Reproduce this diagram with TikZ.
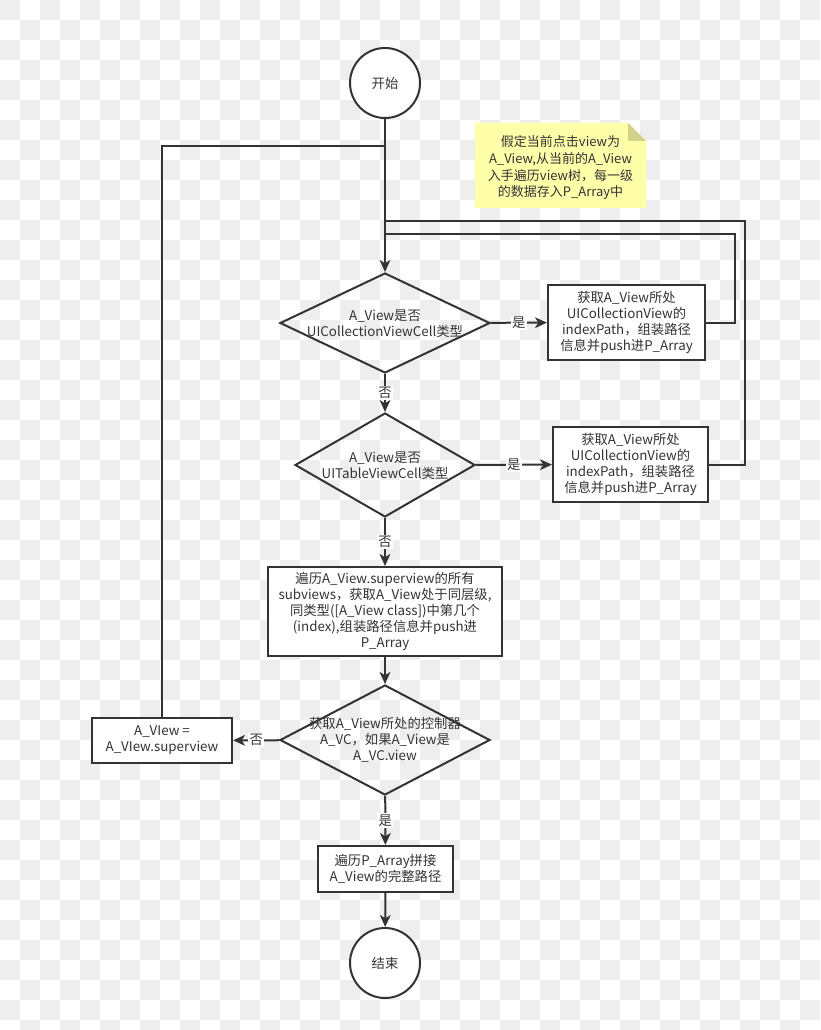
\documentclass[tikz,border=0pt]{standalone}
\usepackage{fontspec}
\setmainfont{Noto Sans CJK SC}
\usetikzlibrary{arrows.meta, shapes.geometric, calc}

\definecolor{linegray}{HTML}{333333}
\definecolor{textgray}{HTML}{333333}
\definecolor{checkgray}{HTML}{EEEEEE}
\definecolor{notefill}{HTML}{FFFFAA}
\definecolor{notefold}{HTML}{D2D28A}
\newcommand{\flowfont}{\fontsize{10pt}{12pt}\selectfont}

\begin{document}
\begin{tikzpicture}[x=0.75pt, y=-0.75pt, >=Stealth,
  flowline/.style={draw=linegray, line width=1.5pt},
  flowarrow/.style={flowline, -{Stealth[length=9pt, width=8pt, inset=2.5pt]}},
  terminal/.style={circle, draw=linegray, line width=1.5pt, fill=white,
                   minimum size=52.5pt, inner sep=0pt, font=\flowfont, text=textgray},
  process/.style={rectangle, draw=linegray, line width=1.5pt, fill=white,
                  align=center, inner sep=0pt, font=\flowfont, text=textgray},
  decision/.style={diamond, draw=linegray, line width=1.5pt, inner sep=0pt},
  decisiontext/.style={align=center, inner sep=0pt, font=\flowfont, text=textgray},
  branch/.style={fill=white, inner sep=1pt, font=\flowfont, text=textgray}]
  \useasboundingbox (0,0) rectangle (820,1030);

  % Checkered backdrop
  \foreach \i in {0,...,40} {
    \pgfmathtruncatemacro{\off}{mod(\i,2)}
    \foreach \j in {0,...,25} {
      \fill[checkgray] (\i*20, {(2*\j+\off)*20}) rectangle ++(20,20);
    }
  }

  % Note
  \fill[notefill] (475,123) -- (628,123) -- (646,141) -- (646,208) -- (475,208) -- cycle;
  \fill[notefold] (628,123) -- (646,141) -- (628,141) -- cycle;
  \node[decisiontext, font=\fontsize{9.75pt}{12.5pt}\selectfont] (note) at (560.5,168)
    {假定当前点击view为\\A\_View,从当前的A\_View\\入手遍历view树，每一级\\的数据存入P\_Array中};

  % Main column
  \node[terminal] (start) at (385,83) {开始};
  \node[decision, minimum width=157.5pt, minimum height=75pt] (dec1) at (385,323) {};
  \node[decisiontext] (dec1text) at (385,324) {A\_View是否\\UICollectionViewCell类型};
  \node[decision, minimum width=135pt, minimum height=78pt] (dec2) at (385,465) {};
  \node[decisiontext] (dec2text) at (385,466) {A\_View是否\\UITableViewCell类型};
  \node[process, minimum width=175.5pt, minimum height=66.75pt] (siblings) at (385,611.5)
    {遍历A\_View.superview的所有\\subviews，获取A\_View处于同层级,\\同类型([A\_View class])中第几个\\(index),组装路径信息并push进\\P\_Array};
  \node[decision, minimum width=157.5pt, minimum height=82.5pt] (dec3) at (385,740) {};
  \node[decisiontext] (dec3text) at (385,740) {获取A\_View所处的控制器\\A\_VC，如果A\_View是\\A\_VC.view};
  \node[process, minimum width=101.25pt, minimum height=34.5pt] (joinpath) at (385.5,869)
    {遍历P\_Array拼接\\A\_View的完整路径};
  \node[terminal] (finish) at (385,963) {结束};

  % Side boxes
  \node[process, minimum width=117.75pt, minimum height=56.25pt] (collpath) at (626.5,322.5)
    {获取A\_View所处\\UICollectionView的\\indexPath，组装路径\\信息并push进P\_Array};
  \node[process, minimum width=116.25pt, minimum height=56.25pt] (tablepath) at (630.5,464.5)
    {获取A\_View所处\\UICollectionView的\\indexPath，组装路径\\信息并push进P\_Array};
  \node[process, minimum width=105pt, minimum height=33.75pt] (superview) at (162,740.5)
    {A\_VIew =\\A\_VIew.superview};

  % Join points on the main line
  \coordinate (jsuper) at (385,146);
  \coordinate (jtable) at (385,221);
  \coordinate (jcoll) at (385,234);

  % Connectors
  \draw[flowarrow] (start) -- (dec1);
  \draw[flowarrow] (dec1) -- node[branch] {是} (collpath);
  \draw[flowarrow] (dec1) -- node[branch] {否} (dec2);
  \draw[flowarrow] (dec2) -- node[branch] {是} (tablepath);
  \draw[flowarrow] (dec2) -- node[branch] {否} (siblings);
  \draw[flowarrow] (siblings) -- (dec3);
  \draw[flowarrow] (dec3) -- node[branch] {否} (superview);
  \draw[flowarrow] (dec3) -- node[branch] {是} (joinpath);
  \draw[flowarrow] (joinpath) -- (finish);

  % Loops back
  \draw[flowline] (collpath.east) -- ++(29,0) |- (jcoll);
  \draw[flowline] (tablepath.east) -- ++(36,0) |- (jtable);
  \draw[flowline] (superview.north) |- (jsuper);
\end{tikzpicture}
\end{document}
